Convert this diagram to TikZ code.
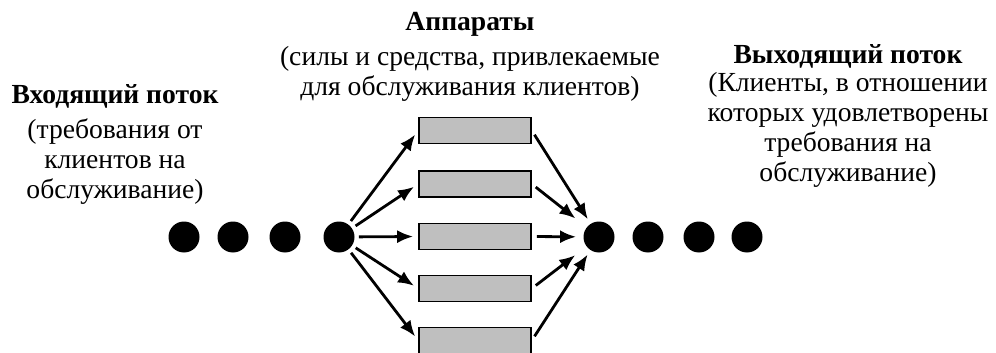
\documentclass[tikz,border=0pt]{standalone}
\usepackage{fontspec}
\setmainfont{Liberation Serif}
\usepackage{tikz}
\usetikzlibrary{arrows.meta}

\begin{document}
\begin{tikzpicture}[x=0.5pt, y=-0.5pt,
        dot/.style={shape=circle, fill=black, inner sep=0pt, minimum size=15.5pt},
        apparat/.style={draw=black, line width=0.8pt, fill=black!25, inner sep=0pt, minimum width=56pt, minimum height=13pt},
        flow/.style={line width=1.4pt, -{Latex[length=8pt,width=6.5pt]}},
        txt/.style={align=center, font=\fontsize{13.8}{15}\selectfont, inner sep=0pt},
        head/.style={txt, font=\fontsize{13.8}{15}\selectfont\bfseries}]
        \useasboundingbox (0,0) rectangle (996,353);

        % incoming flow
        \node[dot] (A1) at (184, 237) {};
        \node[dot] (A2) at (233, 237) {};
        \node[dot] (A3) at (285, 237) {};
        \node[dot] (A4) at (339, 237) {};

        % outgoing flow
        \node[dot] (B1) at (599, 237) {};
        \node[dot] (B2) at (648, 237) {};
        \node[dot] (B3) at (699, 237) {};
        \node[dot] (B4) at (747, 237) {};

        % servers
        \node[apparat] (S1) at (475, 130.5) {};
        \node[apparat] (S2) at (475, 184) {};
        \node[apparat] (S3) at (475, 236.5) {};
        \node[apparat] (S4) at (475, 288.5) {};
        \node[apparat] (S5) at (475, 340.5) {};

        \node[head] (H1) at (115, 96) {Входящий поток};
        \node[txt] (T1) at (115, 162) {(требования от\\клиентов на\\обслуживание)};
        \node[head] (H2) at (470, 24) {Аппараты};
        \node[txt] (T2) at (470, 74) {(силы и средства, привлекаемые\\для обслуживания клиентов)};
        \node[head] (H3) at (848, 56) {Выходящий поток};
        \node[txt] (T3) at (848, 130) {(Клиенты, в отношении\\которых удовлетворены\\требования на\\обслуживание)};

        \draw[flow, shorten <=2pt, shorten >=2.5pt] (A4) to (S1.west);
        \draw[flow, shorten <=2pt, shorten >=2.5pt] (A4) to (S2.west);
        \draw[flow, shorten <=2pt, shorten >=2.5pt] (A4) to (S3.west);
        \draw[flow, shorten <=2pt, shorten >=2.5pt] (A4) to (S4.west);
        \draw[flow, shorten <=2pt, shorten >=2.5pt] (A4) to (S5.west);

        \draw[flow, shorten <=2.5pt, shorten >=2.5pt] (S1.east) to (B1);
        \draw[flow, shorten <=2.5pt, shorten >=7pt] (S2.east) to (B1);
        \draw[flow, shorten <=2.5pt, shorten >=3.5pt] (S3.east) to (B1);
        \draw[flow, shorten <=2.5pt, shorten >=7pt] (S4.east) to (B1);
        \draw[flow, shorten <=2.5pt, shorten >=2.5pt] (S5.east) to (B1);
    \end{tikzpicture}
\end{document}
